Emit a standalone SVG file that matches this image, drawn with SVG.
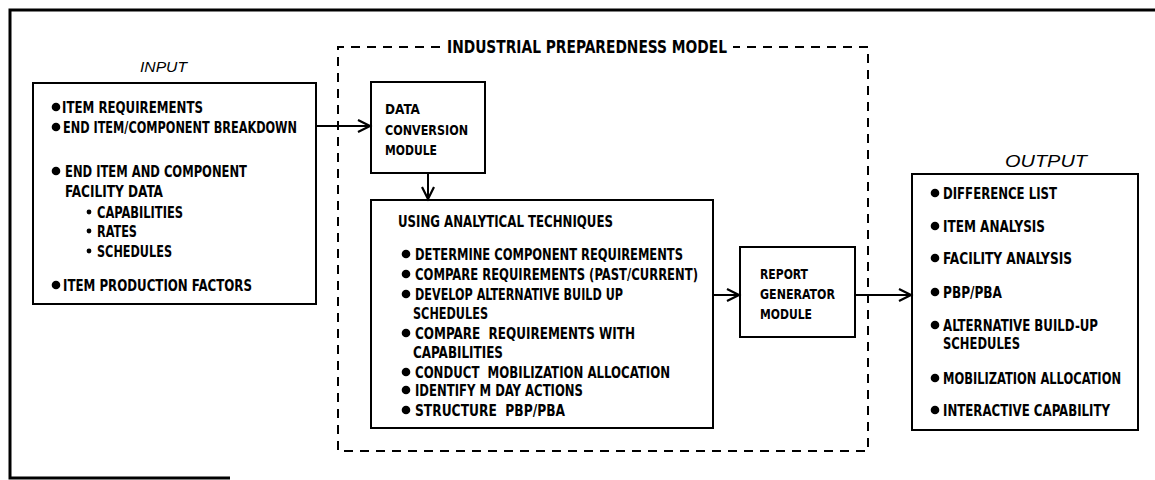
<svg xmlns="http://www.w3.org/2000/svg" width="1155" height="480" viewBox="0 0 1155 480">
<defs>
<style>
.bg{fill:#ffffff}
.box{fill:none;stroke:#000;stroke-width:2}
.frame{fill:none;stroke:#000;stroke-width:3}
.dash{fill:none;stroke:#000;stroke-width:2;stroke-dasharray:9 7}
.t{font-family:"DejaVu Sans Condensed","Liberation Sans Narrow","Liberation Sans",sans-serif;font-weight:bold;font-size:16.5px;fill:#000}
.m{font-family:"DejaVu Sans Condensed","Liberation Sans Narrow","Liberation Sans",sans-serif;font-weight:bold;font-size:14px;fill:#000}
.h{font-family:"Liberation Sans",sans-serif;font-style:italic;font-size:15px;fill:#000}
.b{fill:#000}
.conn{fill:none;stroke:#000;stroke-width:2}
</style>
<marker id="arr" markerUnits="userSpaceOnUse" markerWidth="16" markerHeight="16" refX="13" refY="7" orient="auto">
<path d="M1,1 L13,7 L1,13" fill="none" stroke="#000" stroke-width="2.2"/>
</marker>
</defs>
<rect class="bg" x="0" y="0" width="1155" height="480"/>
<path class="frame" d="M1155,10 H10 V478 H230"/>

<g id="ipm">
<path class="dash" d="M440,47 H338 V451 H868 V47 H733"/>
<text class="t" x="447" y="53" textLength="280" lengthAdjust="spacingAndGlyphs" style="font-size:18px">INDUSTRIAL PREPAREDNESS MODEL</text>
</g>

<g id="input">
<text class="h" x="140" y="72" textLength="47" lengthAdjust="spacingAndGlyphs">INPUT</text>
<rect class="box" x="33" y="83" width="283" height="221"/>
<circle class="b" cx="56" cy="107" r="4.3"/>
<text class="t" x="62" y="113" textLength="141" lengthAdjust="spacingAndGlyphs">ITEM REQUIREMENTS</text>
<circle class="b" cx="56" cy="127" r="4.3"/>
<text class="t" x="63" y="133" textLength="234" lengthAdjust="spacingAndGlyphs">END ITEM/COMPONENT BREAKDOWN</text>
<circle class="b" cx="56" cy="171" r="4.3"/>
<text class="t" x="65" y="177" textLength="182" lengthAdjust="spacingAndGlyphs">END ITEM AND COMPONENT</text>
<text class="t" x="65" y="197" textLength="98" lengthAdjust="spacingAndGlyphs">FACILITY DATA</text>
<circle class="b" cx="89" cy="212" r="2.4"/>
<text class="t" x="97" y="218" textLength="86" lengthAdjust="spacingAndGlyphs">CAPABILITIES</text>
<circle class="b" cx="89" cy="231" r="2.4"/>
<text class="t" x="97" y="237" textLength="40" lengthAdjust="spacingAndGlyphs">RATES</text>
<circle class="b" cx="89" cy="251" r="2.4"/>
<text class="t" x="97" y="257" textLength="75" lengthAdjust="spacingAndGlyphs">SCHEDULES</text>
<circle class="b" cx="56" cy="285" r="4.3"/>
<text class="t" x="63" y="291" textLength="189" lengthAdjust="spacingAndGlyphs">ITEM PRODUCTION FACTORS</text>
</g>

<g id="dataconv">
<rect class="box" x="371" y="82" width="114" height="91"/>
<text class="m" x="385" y="114" textLength="35" lengthAdjust="spacingAndGlyphs">DATA</text>
<text class="m" x="385" y="135" textLength="83" lengthAdjust="spacingAndGlyphs">CONVERSION</text>
<text class="m" x="385" y="155" textLength="52" lengthAdjust="spacingAndGlyphs">MODULE</text>
</g>

<g id="analytical">
<rect class="box" x="371" y="200" width="342" height="228"/>
<text class="t" x="398" y="227" textLength="215" lengthAdjust="spacingAndGlyphs">USING ANALYTICAL TECHNIQUES</text>
<circle class="b" cx="406" cy="254" r="4.3"/>
<text class="t" x="415" y="260" textLength="268" lengthAdjust="spacingAndGlyphs">DETERMINE COMPONENT REQUIREMENTS</text>
<circle class="b" cx="406" cy="274" r="4.3"/>
<text class="t" x="415" y="280" textLength="283" lengthAdjust="spacingAndGlyphs">COMPARE REQUIREMENTS (PAST/CURRENT)</text>
<circle class="b" cx="406" cy="294" r="4.3"/>
<text class="t" x="415" y="300" textLength="208" lengthAdjust="spacingAndGlyphs">DEVELOP ALTERNATIVE BUILD UP</text>
<text class="t" x="413" y="319" textLength="75" lengthAdjust="spacingAndGlyphs">SCHEDULES</text>
<circle class="b" cx="406" cy="333" r="4.3"/>
<text class="t" x="415" y="339" textLength="220" lengthAdjust="spacingAndGlyphs" xml:space="preserve">COMPARE  REQUIREMENTS WITH</text>
<text class="t" x="413" y="358" textLength="90" lengthAdjust="spacingAndGlyphs">CAPABILITIES</text>
<circle class="b" cx="406" cy="372" r="4.3"/>
<text class="t" x="415" y="378" textLength="255" lengthAdjust="spacingAndGlyphs" xml:space="preserve">CONDUCT  MOBILIZATION ALLOCATION</text>
<circle class="b" cx="406" cy="390" r="4.3"/>
<text class="t" x="415" y="396" textLength="168" lengthAdjust="spacingAndGlyphs">IDENTIFY M DAY ACTIONS</text>
<circle class="b" cx="406" cy="410" r="4.3"/>
<text class="t" x="415" y="416" textLength="150" lengthAdjust="spacingAndGlyphs" xml:space="preserve">STRUCTURE  PBP/PBA</text>
</g>

<g id="report">
<rect class="box" x="740" y="247" width="115" height="90"/>
<text class="m" x="760" y="279" textLength="48" lengthAdjust="spacingAndGlyphs">REPORT</text>
<text class="m" x="760" y="299" textLength="75" lengthAdjust="spacingAndGlyphs">GENERATOR</text>
<text class="m" x="760" y="319" textLength="52" lengthAdjust="spacingAndGlyphs">MODULE</text>
</g>

<g id="output">
<text class="h" x="1005" y="167" textLength="82" lengthAdjust="spacingAndGlyphs" style="font-size:16px">OUTPUT</text>
<rect class="box" x="912" y="174" width="226" height="256"/>
<circle class="b" cx="935" cy="193" r="4.3"/>
<text class="t" x="943" y="199" textLength="114" lengthAdjust="spacingAndGlyphs">DIFFERENCE LIST</text>
<circle class="b" cx="935" cy="226" r="4.3"/>
<text class="t" x="943" y="232" textLength="102" lengthAdjust="spacingAndGlyphs">ITEM ANALYSIS</text>
<circle class="b" cx="935" cy="258" r="4.3"/>
<text class="t" x="943" y="264" textLength="129" lengthAdjust="spacingAndGlyphs">FACILITY ANALYSIS</text>
<circle class="b" cx="935" cy="292" r="4.3"/>
<text class="t" x="943" y="298" textLength="59" lengthAdjust="spacingAndGlyphs">PBP/PBA</text>
<circle class="b" cx="935" cy="325" r="4.3"/>
<text class="t" x="943" y="331" textLength="155" lengthAdjust="spacingAndGlyphs">ALTERNATIVE BUILD-UP</text>
<text class="t" x="943" y="349" textLength="77" lengthAdjust="spacingAndGlyphs">SCHEDULES</text>
<circle class="b" cx="935" cy="378" r="4.3"/>
<text class="t" x="943" y="384" textLength="178" lengthAdjust="spacingAndGlyphs">MOBILIZATION ALLOCATION</text>
<circle class="b" cx="935" cy="410" r="4.3"/>
<text class="t" x="943" y="416" textLength="167" lengthAdjust="spacingAndGlyphs">INTERACTIVE CAPABILITY</text>
</g>

<g id="connectors">
<path class="conn" d="M316,126 H370" marker-end="url(#arr)"/>
<path class="conn" d="M428,173 V199" marker-end="url(#arr)"/>
<path class="conn" d="M713,295 H739" marker-end="url(#arr)"/>
<path class="conn" d="M855,295 H911" marker-end="url(#arr)"/>
</g>
</svg>
